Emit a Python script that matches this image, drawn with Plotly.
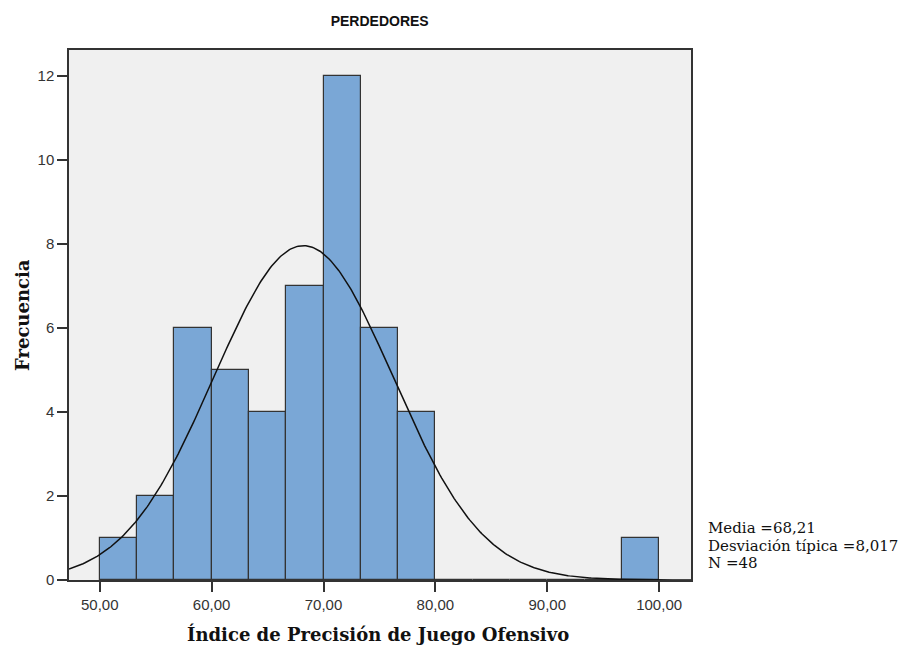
import numpy as np
import plotly.graph_objects as go

# Histogram bins (15 equal-width bins from 50 to 100) and frequencies
bin_start = 50.0
bin_end = 100.0
n_bins = 15
counts = [1, 2, 6, 5, 4, 7, 12, 6, 4, 0, 0, 0, 0, 0, 1]

# Summary statistics shown in the side legend
media = 68.21
desviacion = 8.017
n_total = 48

x_ticks = [50, 60, 70, 80, 90, 100]
x_tick_text = ["50,00", "60,00", "70,00", "80,00", "90,00", "100,00"]
y_ticks = [0, 2, 4, 6, 8, 10, 12]

x_range = [47.25, 102.85]
y_range = [0, 12.62]

width = (bin_end - bin_start) / n_bins
centers = [bin_start + width * (i + 0.5) for i in range(n_bins)]

fig = go.Figure()
fig.add_trace(go.Bar(
    x=centers, y=counts, width=[width] * n_bins,
    marker=dict(color="#7AA7D6", line=dict(color="#333333", width=1.2)),
    hoverinfo="skip", showlegend=False,
))

# Fitted normal curve scaled to the histogram
xc = np.linspace(x_range[0], x_range[1], 400)
yc = n_total * width / (desviacion * np.sqrt(2 * np.pi)) * np.exp(-0.5 * ((xc - media) / desviacion) ** 2)
fig.add_trace(go.Scatter(x=xc, y=yc, mode="lines",
                         line=dict(color="#111111", width=1.5),
                         hoverinfo="skip", showlegend=False))

axis_common = dict(
    showgrid=False, zeroline=False, showline=True, mirror=True,
    linecolor="#333333", linewidth=1.5, automargin=False,
    ticks="outside", ticklen=10, tickwidth=1.5, tickcolor="#333333",
    tickfont=dict(family="Liberation Sans, Arial, sans-serif", size=15, color="#333333"),
)

serif = "DejaVu Serif, Liberation Serif, serif"

fig.update_layout(
    width=904, height=646,
    margin=dict(l=69, r=213, t=50, b=66),
    paper_bgcolor="white", plot_bgcolor="#F0F0F0",
    bargap=0,
    title=dict(text="<b>PERDEDORES</b>", x=0.42, xanchor="center", y=0.968, yanchor="middle",
               font=dict(family="Liberation Sans, Arial, sans-serif", size=14, color="#111111")),
    xaxis=dict(range=x_range, tickvals=x_ticks, ticktext=x_tick_text, **axis_common),
    yaxis=dict(range=y_range, tickvals=y_ticks, **axis_common),
)

# Axis titles
fig.add_annotation(text="<b>Índice de Precisión de Juego Ofensivo</b>", xref="paper", yref="paper",
                   x=0.497, y=-54 / 530, xanchor="center", yanchor="middle", showarrow=False,
                   font=dict(family=serif, size=18, color="#111111"))
fig.add_annotation(text="<b>Frecuencia</b>", xref="paper", yref="paper",
                   x=-47 / 622, y=0.5, xanchor="center", yanchor="middle", textangle=-90,
                   showarrow=False, font=dict(family=serif, size=18, color="#111111"))

legend_lines = [
    "Media =" + f"{media:.2f}".replace(".", ","),
    "Desviación típica =" + f"{desviacion:.3f}".replace(".", ","),
    "N =" + str(n_total),
]
legend_y_px = [528, 546, 563]
for txt, py in zip(legend_lines, legend_y_px):
    fig.add_annotation(text=txt, xref="paper", yref="paper",
                       x=1.024, xanchor="left",
                       y=(580 - py) / 530, yanchor="middle", showarrow=False,
                       font=dict(family=serif, size=15, color="#111111"))

fig.write_html("out.html")
